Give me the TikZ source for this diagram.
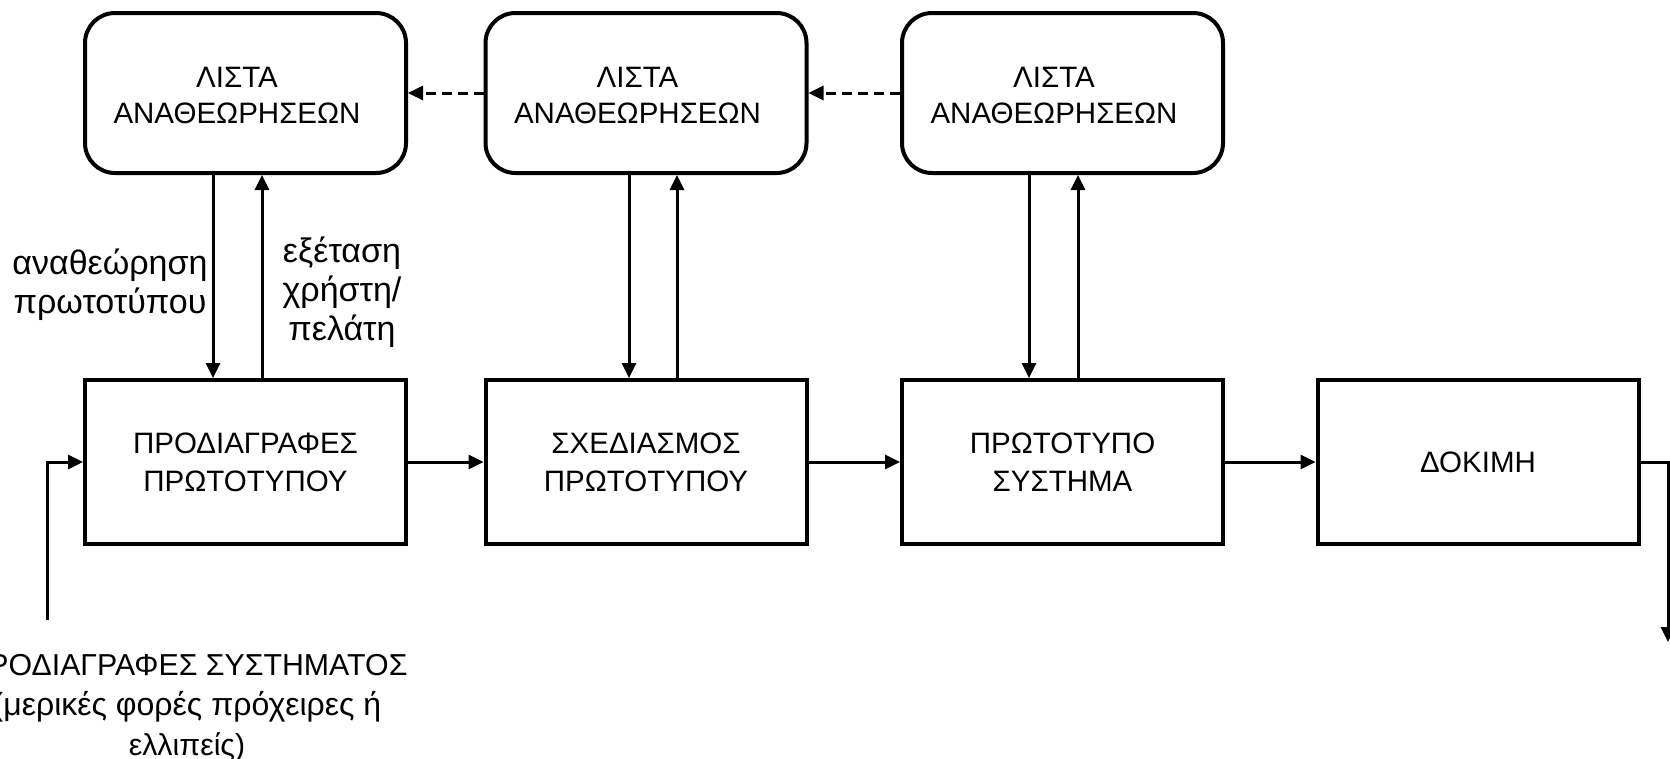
\documentclass[tikz,border=0pt]{standalone}
\usepackage{fontspec}
\setmainfont{Liberation Sans}
\usetikzlibrary{arrows.meta,calc}
\begin{document}
\begin{tikzpicture}[x=1pt,y=-1pt,
  rbox/.style={draw,line width=4pt,rounded corners=30pt,minimum width=321pt,minimum height=160pt,inner sep=0pt},
  rtext/.style={align=center,font=\fontsize{29.5}{36}\selectfont,inner sep=0pt},
  sbox/.style={draw,line width=4pt,minimum width=321pt,minimum height=164pt,align=center,font=\fontsize{29.5}{38}\selectfont,inner sep=0pt},
  arr/.style={line width=3pt,-{Triangle[length=15pt,width=14pt]}},
  darr/.style={arr,dash pattern=on 10pt off 6pt},
  lbl/.style={align=center,font=\fontsize{34}{39}\selectfont,inner sep=0pt},
  blbl/.style={align=center,font=\fontsize{30.3}{40}\selectfont,inner sep=0pt}]
\useasboundingbox (0,0) rectangle (1670,758);
\node[rbox] (r1) at (245.5,93) {};
\node[rbox] (r2) at (646,93) {};
\node[rbox] (r3) at (1062.5,93) {};
\node[rtext] (r1t) at ($(r1)+(-8.5,2.5)$) {ΛΙΣΤΑ\\ΑΝΑΘΕΩΡΗΣΕΩΝ};
\node[rtext] (r2t) at ($(r2)+(-8.5,2.5)$) {ΛΙΣΤΑ\\ΑΝΑΘΕΩΡΗΣΕΩΝ};
\node[rtext] (r3t) at ($(r3)+(-8.5,2.5)$) {ΛΙΣΤΑ\\ΑΝΑΘΕΩΡΗΣΕΩΝ};
\node[sbox] (b1) at (245.5,462) {ΠΡΟΔΙΑΓΡΑΦΕΣ\\ΠΡΩΤΟΤΥΠΟΥ};
\node[sbox] (b2) at (646,462) {ΣΧΕΔΙΑΣΜΟΣ\\ΠΡΩΤΟΤΥΠΟΥ};
\node[sbox] (b3) at (1062.5,462) {ΠΡΩΤΟΤΥΠΟ\\ΣΥΣΤΗΜΑ};
\node[sbox] (b4) at (1478,462) {ΔΟΚΙΜΗ};
% dashed
\draw[darr] (r2.west) -- (r1.east);
\draw[darr] (r3.west) -- (r2.east);
% verticals
\draw[arr] (r1.south -| 213,0) -- (b1.north -| 213,0);
\draw[arr] (b1.north -| 262,0) -- (r1.south -| 262,0);
\draw[arr] (r2.south -| 629,0) -- (b2.north -| 629,0);
\draw[arr] (b2.north -| 677,0) -- (r2.south -| 677,0);
\draw[arr] (r3.south -| 1029,0) -- (b3.north -| 1029,0);
\draw[arr] (b3.north -| 1078,0) -- (r3.south -| 1078,0);
% horizontals
\draw[arr] (b1) -- (b2);
\draw[arr] (b2) -- (b3);
\draw[arr] (b3) -- (b4);
% input / output
\coordinate (in) at (47,620);
\coordinate (out) at (1668,642);
\draw[arr] (in) |- (b1.west);
\draw[arr] (b4.east) -| (out);
% labels
\node[lbl] (l1) at (110,285) {αναθεώρηση\\πρωτοτύπου};
\node[lbl] (l2) at (342,292) {εξέταση\\χρήστη/\\πελάτη};
\node[blbl] (l3) at (187,708) {ΠΡΟΔΙΑΓΡΑΦΕΣ ΣΥΣΤΗΜΑΤΟΣ\\\fontsize{32}{40}\selectfont (μερικές φορές πρόχειρες ή\hspace*{6pt}\\ελλιπείς)};
\end{tikzpicture}
\end{document}
